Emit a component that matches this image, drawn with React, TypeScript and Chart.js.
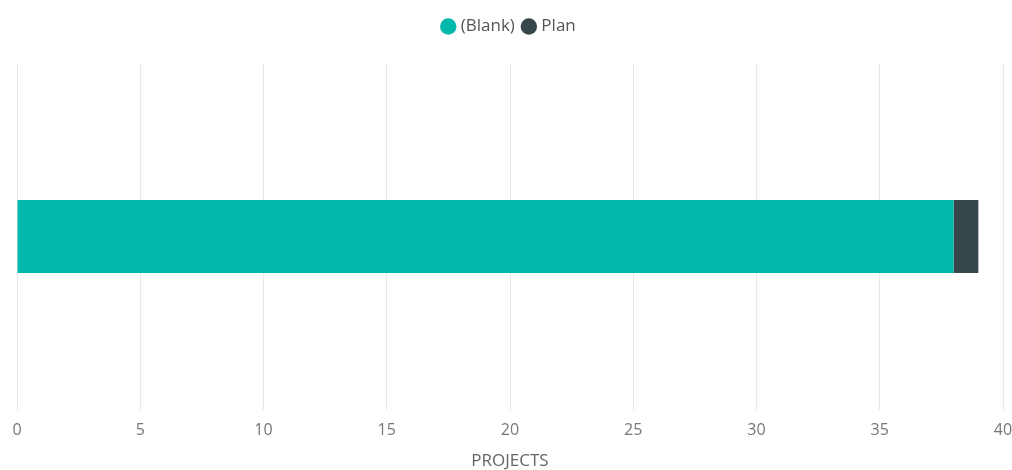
import React, { useEffect, useRef } from "react";
import { Chart, registerables } from "chart.js";

Chart.register(...registerables);

const categories = [""];
const blankValues = [38];
const planValues = [1];
const seriesNames = ["(Blank)", "Plan"];
const axisTitle = "PROJECTS";

const legendSpacer = {
  id: "legendSpacer",
  beforeInit(chart: any) {
    const orig = chart.legend.fit;
    chart.legend.fit = function () {
      orig.bind(chart.legend)();
      this.height += 18;
    };
  },
};

export default function App() {
  const ref = useRef<HTMLCanvasElement | null>(null);
  useEffect(() => {
    document.body.style.margin = "0";
    const ctx = ref.current!;
    const chart = new Chart(ctx, {
      type: "bar",
      data: {
        labels: categories,
        datasets: [
          { label: seriesNames[0], data: blankValues, backgroundColor: "#01B8AA", borderWidth: 0 },
          { label: seriesNames[1], data: planValues, backgroundColor: "#374649", borderWidth: 0 },
        ],
      },
      plugins: [legendSpacer],
      options: {
        indexAxis: "y",
        animation: false,
        responsive: false,
        maintainAspectRatio: false,
        layout: { padding: { left: 17, top: 8, right: 9, bottom: 0 } },
        datasets: { bar: { categoryPercentage: 1, barPercentage: 0.21 } },
        plugins: {
          legend: {
            position: "top",
            labels: {
              usePointStyle: true,
              pointStyle: "circle",
              boxWidth: 8,
              boxHeight: 11.6,
              padding: 10,
              color: "#555",
              font: { family: "'Open Sans', sans-serif", size: 17 },
            },
          },
          tooltip: { enabled: false },
        },
        scales: {
          x: {
            stacked: true,
            min: 0,
            max: 40,
            afterFit: (scale: any) => {
              scale.height = 60;
              scale.paddingLeft = 0;
              scale.paddingRight = 0;
            },
            ticks: { stepSize: 5, color: "#777", padding: 12, maxRotation: 0, font: { family: "'Open Sans', sans-serif", size: 16, lineHeight: 1 } },
            grid: { color: "#e8e8e8", drawTicks: false },
            border: { display: false },
            title: { display: true, text: axisTitle, color: "#666", padding: { top: 0, bottom: 0 }, font: { family: "'Open Sans', sans-serif", size: 17, lineHeight: 1 } },
          },
          y: {
            stacked: true,
            display: false,
          },
        },
      },
    });
    return () => chart.destroy();
  }, []);
  return <canvas ref={ref} width={1012} height={470} style={{ display: "block" }} />;
}
